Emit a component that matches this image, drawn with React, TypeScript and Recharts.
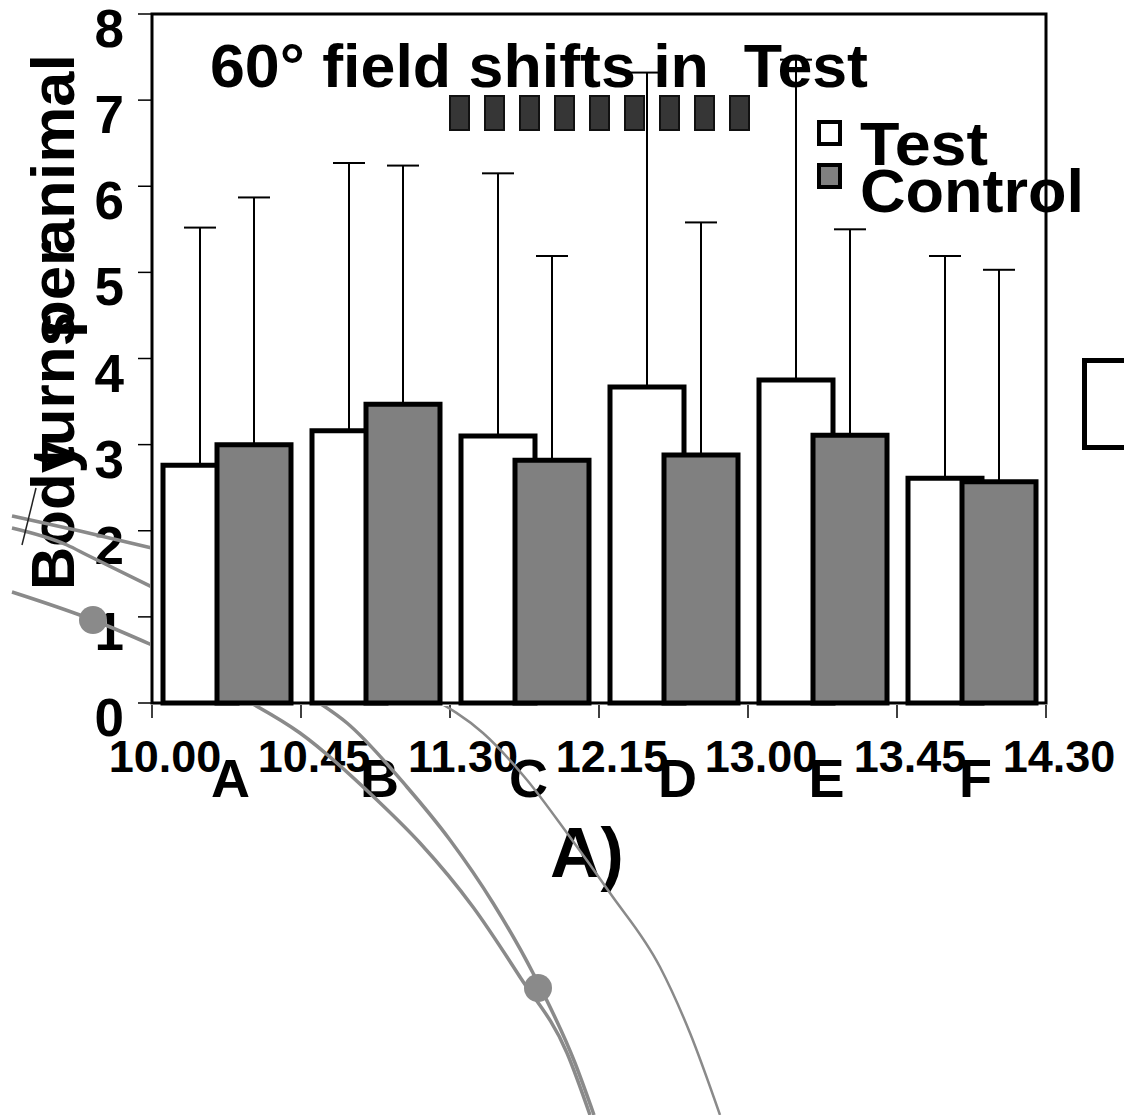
import React from 'react';
import {
  BarChart,
  ComposedChart,
  Bar,
  XAxis,
  YAxis,
  ErrorBar,
  ReferenceArea,
  Legend,
  Line,
  Scatter,
} from 'recharts';

// ---------- data ----------
const categories = ['A', 'B', 'C', 'D', 'E', 'F'];
const seriesNames = ['Test', 'Control'];
const testValues = [2.76, 3.16, 3.1, 3.67, 3.75, 2.61];
const controlValues = [3.0, 3.47, 2.82, 2.88, 3.11, 2.57];
const testUpper = [5.52, 6.27, 6.15, 7.32, 7.47, 5.19];
const controlUpper = [5.87, 6.24, 5.19, 5.58, 5.5, 5.03];
// time boundaries: label i sits at the start of category i, the last one at the end of F
const timeLabels = ['10.00', '10.45', '11.30', '12.15', '13.00', '13.45', '14.30'];
const yTicks = [0, 1, 2, 3, 4, 5, 6, 7, 8];
const titleText = '60° field shifts in\u00a0 Test';
const yLabelWords = ['Body', 'turns', 'per', 'animal'];
const panelLabel = 'A)';

// decorative grey curves (page-pixel units on a hidden 1124 x 1115 scale)
const curveLeft1 = [
  { x: 12, y: 516 },
  { x: 80, y: 531 },
  { x: 152, y: 548 },
];
const curveLeft2 = [
  { x: 12, y: 528 },
  { x: 67, y: 545 },
  { x: 87, y: 555 },
  { x: 152, y: 587 },
];
const curveLeft3 = [
  { x: 12, y: 592 },
  { x: 93, y: 620 },
  { x: 152, y: 645 },
];
const curveLow1 = [
  { x: 240, y: 697 },
  { x: 300, y: 733 },
  { x: 377, y: 800 },
  { x: 420, y: 843 },
  { x: 473, y: 907 },
  { x: 520, y: 977 },
  { x: 567, y: 1053 },
  { x: 590, y: 1115 },
];
const curveLow2 = [
  { x: 310, y: 697 },
  { x: 347, y: 723 },
  { x: 407, y: 787 },
  { x: 450, y: 840 },
  { x: 493, y: 903 },
  { x: 533, y: 973 },
  { x: 575, y: 1063 },
  { x: 594, y: 1115 },
];
const curveThin = [
  { x: 430, y: 697 },
  { x: 483, y: 733 },
  { x: 527, y: 780 },
  { x: 567, y: 833 },
  { x: 610, y: 893 },
  { x: 660, y: 967 },
  { x: 690, y: 1033 },
  { x: 720, y: 1115 },
];
const slashLine = [
  { x: 22, y: 545 },
  { x: 36, y: 488 },
];
const curveDots = [
  { x: 93, y: 620 },
  { x: 538, y: 988 },
];
const markerBlocks = [0, 1, 2, 3, 4, 5, 6, 7, 8];

const data = categories.map((c, i) => ({
  cat: c,
  test: testValues[i],
  control: controlValues[i],
  testErr: [0, +(testUpper[i] - testValues[i]).toFixed(3)],
  controlErr: [0, +(controlUpper[i] - controlValues[i]).toFixed(3)],
}));

const FONT = '"Liberation Sans", Arial, Helvetica, sans-serif';
const GREY_CURVE = '#8a8a8a';

const YTick = (props: any) => {
  const { x, y, payload } = props;
  return (
    <text x={x} y={y + 33} textAnchor="end" fontFamily={FONT} fontWeight="bold" fontSize={53} fill="#000">
      {payload.value}
    </text>
  );
};

const TimeMark = ({ x, y, label }: { x: number; y: number; label: string }) => (
  <g>
    <line x1={x} y1={y + 2} x2={x} y2={y + 15} stroke="#000" strokeWidth={1.5} />
    <text x={x + 13} y={y + 69} textAnchor="middle" fontFamily={FONT} fontWeight="bold" fontSize={45} fill="#000">
      {label}
    </text>
  </g>
);

const CatTick = (props: any) => {
  const { x, y, payload, index } = props;
  const half = payload && typeof payload.offset === 'number' && payload.offset > 0 ? payload.offset : 74.5;
  const i = typeof index === 'number' ? index : categories.indexOf(payload.value);
  return (
    <g>
      <TimeMark x={x - half} y={y} label={timeLabels[i]} />
      {i === categories.length - 1 && <TimeMark x={x + half} y={y} label={timeLabels[i + 1]} />}
      <text x={x + 4} y={y + 94} textAnchor="middle" fontFamily={FONT} fontWeight="bold" fontSize={54} fill="#000">
        {payload.value}
      </text>
    </g>
  );
};

const legendTextLengths = [128, 224];

const renderLegend = (props: any) => {
  const payload = [...(props.payload || [])].sort(
    (a: any, b: any) => seriesNames.indexOf(a.value) - seriesNames.indexOf(b.value)
  );
  return (
    <svg width={300} height={120} style={{ overflow: 'visible' }}>
      {payload.map((e: any, i: number) => (
        <g key={i}>
          <rect
            x={9}
            y={12 + i * 43}
            width={21}
            height={22}
            fill={(e.payload && e.payload.fill) || e.color}
            stroke="#000"
            strokeWidth={4}
          />
          <text
            x={50}
            y={55 + i * 47}
            fontFamily={FONT}
            fontWeight="bold"
            fontSize={62}
            fill="#000"
            textLength={legendTextLengths[i]}
            lengthAdjust="spacingAndGlyphs"
          >
            {e.value}
          </text>
        </g>
      ))}
    </svg>
  );
};

const yLabelStarts = [590, 467, 338, 254];
const yLabelLengths = [150, 155, 96, 200];

export default function App() {
  return (
    <div style={{ position: 'absolute', left: 0, top: 0, width: 1124, height: 1115, background: '#fff', overflow: 'hidden' }}>
      <div style={{ position: 'absolute', left: 0, top: 0 }}>
        <BarChart
          width={1124}
          height={1115}
          data={data}
          margin={{ top: 14, right: 78, bottom: 411, left: 0 }}
          barSize={74}
          barGap={-20}
        >
          <XAxis
            xAxisId="cat"
            dataKey="cat"
            height={1}
            tickSize={0}
            tickMargin={0}
            tickLine={false}
            axisLine={false}
            interval={0}
            tick={<CatTick />}
          />
          <YAxis
            yAxisId="y"
            type="number"
            domain={[0, 8]}
            ticks={yTicks}
            interval={0}
            width={152}
            tickSize={14}
            tickMargin={14}
            axisLine={{ stroke: '#000', strokeWidth: 1.5 }}
            tickLine={{ stroke: '#000', strokeWidth: 1.5 }}
            tick={<YTick />}
          />
          <ReferenceArea
            xAxisId="cat"
            yAxisId="y"
            x1="A"
            x2="F"
            y1={0}
            y2={8}
            fill="#ffffff"
            fillOpacity={0}
            stroke="#000"
            strokeWidth={3}
            strokeOpacity={1}
            ifOverflow="visible"
          />
          <Bar xAxisId="cat" yAxisId="y" dataKey="test" name="Test" fill="#ffffff" stroke="#000" strokeWidth={5} isAnimationActive={false}>
            <ErrorBar dataKey="testErr" width={16} stroke="#000" strokeWidth={2} direction="y" />
          </Bar>
          <Bar xAxisId="cat" yAxisId="y" dataKey="control" name="Control" fill="#808080" stroke="#000" strokeWidth={5} isAnimationActive={false}>
            <ErrorBar dataKey="controlErr" width={16} stroke="#000" strokeWidth={2} direction="y" />
          </Bar>
          <Legend
            layout="vertical"
            align="center"
            verticalAlign="middle"
            content={renderLegend}
            wrapperStyle={{ left: 810, top: 110, width: 300, height: 120 }}
          />
          <text x={210} y={87} fontFamily={FONT} fontWeight="bold" fontSize={62} fill="#000" textLength={658} lengthAdjust="spacingAndGlyphs">
            {titleText}
          </text>
          {markerBlocks.map((b) => (
            <rect key={b} x={450 + b * 35} y={96} width={19} height={34} fill="#363636" stroke="#111" strokeWidth={2} />
          ))}
          {yLabelWords.map((w, i) => (
            <text
              key={w}
              x={74}
              y={yLabelStarts[i]}
              transform={`rotate(-90 74 ${yLabelStarts[i]})`}
              fontFamily={FONT}
              fontWeight="bold"
              fontSize={62}
              fill="#000"
              textLength={yLabelLengths[i]}
              lengthAdjust="spacingAndGlyphs"
            >
              {w}
            </text>
          ))}
          <text x={550} y={877} fontFamily={FONT} fontWeight="bold" fontSize={70} fill="#000">
            {panelLabel}
          </text>
          <rect x={1084.5} y={360.5} width={60} height={87} fill="#fff" stroke="#000" strokeWidth={5} />
        </BarChart>
      </div>
      <div
        style={{
          position: 'absolute',
          left: 0,
          top: 0,
          width: 1124,
          height: 1115,
          pointerEvents: 'none',
          clipPath:
            'polygon(evenodd, 0px 0px, 1124px 0px, 1124px 1115px, 0px 1115px, 0px 0px, 150px 12px, 150px 706px, 1048px 706px, 1048px 12px, 150px 12px)',
        }}
      >
        <ComposedChart width={1124} height={1115} margin={{ top: 0, right: 0, bottom: 0, left: 0 }}>
          <XAxis xAxisId="px" type="number" dataKey="x" domain={[0, 1124]} allowDataOverflow hide />
          <YAxis yAxisId="py" type="number" dataKey="y" domain={[0, 1115]} allowDataOverflow reversed hide />
          {[curveLeft1, curveLeft2, curveLeft3, curveLow1, curveLow2].map((c, i) => (
            <Line
              key={i}
              xAxisId="px"
              yAxisId="py"
              data={c}
              dataKey="y"
              type="monotone"
              stroke={GREY_CURVE}
              strokeWidth={3.5}
              dot={false}
              activeDot={false}
              isAnimationActive={false}
            />
          ))}
          <Line
            xAxisId="px"
            yAxisId="py"
            data={curveThin}
            dataKey="y"
            type="monotone"
            stroke={GREY_CURVE}
            strokeWidth={2.5}
            dot={false}
            activeDot={false}
            isAnimationActive={false}
          />
          <Line
            xAxisId="px"
            yAxisId="py"
            data={slashLine}
            dataKey="y"
            type="linear"
            stroke="#222"
            strokeWidth={1.5}
            dot={false}
            activeDot={false}
            isAnimationActive={false}
          />
          <Scatter
            xAxisId="px"
            yAxisId="py"
            data={curveDots}
            dataKey="y"
            isAnimationActive={false}
            shape={(p: any) => <circle cx={p.cx} cy={p.cy} r={14} fill={GREY_CURVE} />}
          />
        </ComposedChart>
      </div>
    </div>
  );
}
